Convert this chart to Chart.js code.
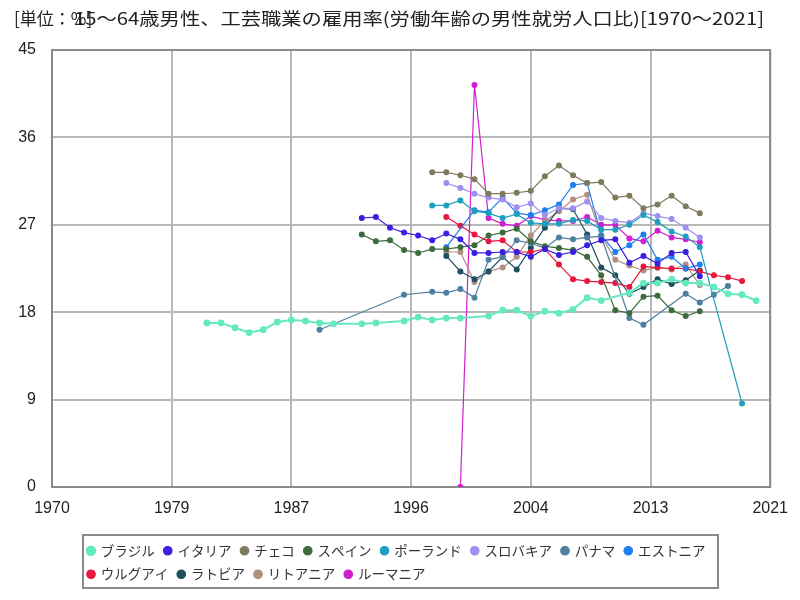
<!DOCTYPE html>
<html lang="ja">
<head>
<meta charset="utf-8">
<script src="https://cdn.jsdelivr.net/npm/chart.js@4.4.1/dist/chart.umd.min.js"></script>
<style>
  html, body { margin: 0; padding: 0; background: #fff; }
  #wrap { width: 800px; height: 600px; }
</style>
</head>
<body>
<div id="wrap"><canvas id="chart" width="800" height="600"></canvas></div>
<script>
// ----------------------------------------
// 15～64歳男性、工芸職業の雇用率 (1970～2021)
// ----------------------------------------

const unitText = '[単位：%]';
const titleText = '15～64歳男性、工芸職業の雇用率(労働年齢の男性就労人口比)[1970～2021]';

// 軸
const xMin = 1970;
const xMax = 2021;
const xStep = 8.5;
const yMin = 0;
const yMax = 45;
const yStep = 9;

// 系列データ（年と値）
const brazilYears = [1981, 1982, 1983, 1984, 1985, 1986, 1987, 1988, 1989, 1990, 1992, 1993, 1995, 1996, 1997, 1998, 1999, 2001, 2002, 2003, 2004, 2005, 2006, 2007, 2008, 2009, 2011, 2012, 2013, 2014, 2015, 2016, 2017, 2018, 2019, 2020];
const brazilValues = [16.9, 16.9, 16.4, 15.9, 16.2, 17.0, 17.2, 17.1, 16.9, 16.8, 16.8, 16.9, 17.1, 17.5, 17.2, 17.4, 17.4, 17.6, 18.2, 18.2, 17.6, 18.1, 17.9, 18.3, 19.5, 19.2, 20.0, 21.0, 21.0, 21.4, 21.0, 21.0, 20.6, 19.9, 19.8, 19.2];

const italyYears = [1992, 1993, 1994, 1995, 1996, 1997, 1998, 1999, 2000, 2001, 2002, 2003, 2004, 2005, 2006, 2007, 2008, 2009, 2010, 2011, 2012, 2013, 2014, 2015, 2016];
const italyValues = [27.7, 27.8, 26.7, 26.2, 25.9, 25.4, 26.1, 25.5, 24.1, 24.1, 24.2, 24.2, 23.7, 24.5, 23.9, 24.2, 24.9, 25.4, 25.5, 23.1, 23.8, 23.0, 24.1, 24.2, 21.7];

const czechYears = [1997, 1998, 1999, 2000, 2001, 2002, 2003, 2004, 2005, 2006, 2007, 2008, 2009, 2010, 2011, 2012, 2013, 2014, 2015, 2016];
const czechValues = [32.4, 32.4, 32.1, 31.7, 30.2, 30.2, 30.3, 30.5, 32.0, 33.1, 32.1, 31.3, 31.4, 29.8, 30.0, 28.7, 29.1, 30.0, 28.9, 28.2];

const spainYears = [1992, 1993, 1994, 1995, 1996, 1997, 1998, 1999, 2000, 2001, 2002, 2003, 2004, 2005, 2006, 2007, 2008, 2009, 2010, 2011, 2012, 2013, 2014, 2015, 2016];
const spainValues = [26.0, 25.3, 25.4, 24.4, 24.1, 24.5, 24.5, 24.7, 24.9, 25.9, 26.2, 26.6, 25.3, 24.8, 24.6, 24.4, 23.7, 21.8, 18.2, 17.9, 19.6, 19.7, 18.2, 17.6, 18.1];

const polandYears = [1997, 1998, 1999, 2000, 2001, 2002, 2003, 2004, 2005, 2006, 2007, 2008, 2009, 2010, 2011, 2012, 2013, 2014, 2015, 2016, 2019];
const polandValues = [29.0, 29.0, 29.5, 28.4, 28.2, 27.7, 28.1, 27.2, 27.1, 27.1, 27.5, 27.4, 26.5, 26.5, 27.0, 28.0, 27.3, 26.3, 25.8, 24.7, 8.6];

const slovakiaYears = [1998, 1999, 2000, 2001, 2002, 2003, 2004, 2005, 2006, 2007, 2008, 2009, 2010, 2011, 2012, 2013, 2014, 2015, 2016];
const slovakiaValues = [31.3, 30.8, 30.2, 29.8, 29.6, 28.8, 29.2, 28.0, 28.7, 28.7, 29.4, 27.7, 27.4, 27.2, 28.2, 27.9, 27.6, 26.7, 25.7];

const panamaYears = [1989, 1995, 1997, 1998, 1999, 2000, 2001, 2002, 2003, 2004, 2005, 2006, 2007, 2008, 2009, 2011, 2012, 2015, 2016, 2017, 2018];
const panamaValues = [16.2, 19.8, 20.1, 20.0, 20.4, 19.5, 23.4, 23.7, 25.4, 25.1, 24.6, 25.7, 25.5, 25.7, 25.8, 17.4, 16.7, 19.9, 19.0, 19.8, 20.7];

const estoniaYears = [1998, 2000, 2001, 2002, 2003, 2004, 2005, 2006, 2007, 2008, 2009, 2010, 2011, 2012, 2013, 2014, 2015, 2016];
const estoniaValues = [24.7, 28.5, 28.3, 29.8, 28.2, 28.0, 28.5, 29.1, 31.1, 31.3, 25.9, 24.2, 24.9, 26.0, 23.4, 23.7, 22.5, 22.9];

const uruguayYears = [1998, 1999, 2000, 2001, 2002, 2003, 2004, 2005, 2006, 2007, 2008, 2009, 2010, 2011, 2012, 2013, 2014, 2015, 2016, 2017, 2018, 2019];
const uruguayValues = [27.8, 26.9, 26.0, 25.3, 25.4, 24.2, 24.2, 24.5, 22.9, 21.4, 21.2, 21.1, 21.0, 20.6, 22.7, 22.6, 22.5, 22.5, 22.2, 21.8, 21.6, 21.2];

const latviaYears = [1998, 1999, 2000, 2001, 2002, 2003, 2004, 2005, 2006, 2007, 2008, 2009, 2010, 2011, 2012, 2013, 2014, 2015, 2016];
const latviaValues = [23.8, 22.2, 21.4, 22.2, 23.7, 22.4, 24.6, 26.7, 28.7, 28.6, 26.0, 22.6, 21.8, 19.9, 20.6, 21.4, 20.9, 21.3, 22.3];

const lithuaniaYears = [1998, 1999, 2000, 2001, 2002, 2003, 2004, 2005, 2006, 2007, 2008, 2009, 2010, 2011, 2012, 2013, 2014, 2015, 2016];
const lithuaniaValues = [24.2, 24.2, 21.1, 22.2, 22.6, 23.7, 25.9, 27.4, 28.4, 29.6, 30.1, 25.9, 23.4, 22.8, 22.3, 22.6, 22.4, 22.9, 20.8];

const romaniaYears = [1999, 2000, 2001, 2002, 2003, 2004, 2005, 2006, 2007, 2008, 2009, 2010, 2011, 2012, 2013, 2014, 2015, 2016];
const romaniaValues = [0, 41.4, 27.7, 27.1, 26.9, 27.9, 27.5, 27.4, 27.4, 27.8, 27.0, 27.0, 25.6, 25.3, 26.4, 25.7, 25.5, 25.2];

// 色
const colors = {
  brazil: '#66e8c0',
  italy: '#3a1fe0',
  czech: '#7f7a5c',
  spain: '#3d6b3d',
  poland: '#1f9fbf',
  slovakia: '#9f8fef',
  panama: '#4f7f9f',
  estonia: '#1f7fef',
  uruguay: '#e8173f',
  latvia: '#1f4f5f',
  lithuania: '#af8f7f',
  romania: '#cf1fcf',
  grid: '#b8b8b8',
  frame: '#8a8a8a',
  text: '#222222'
};

function makeSeries(label, years, values, color, width) {
  return {
    label: label,
    data: years.map((yr, i) => ({ x: yr, y: values[i] })),
    borderColor: color,
    backgroundColor: color,
    pointBackgroundColor: color,
    pointBorderColor: color,
    borderWidth: width || 1.2,
    pointRadius: 2.4,
    pointHoverRadius: 3,
    tension: 0
  };
}

const datasets = [
  makeSeries('ブラジル', brazilYears, brazilValues, colors.brazil, 2),
  makeSeries('イタリア', italyYears, italyValues, colors.italy),
  makeSeries('チェコ', czechYears, czechValues, colors.czech),
  makeSeries('スペイン', spainYears, spainValues, colors.spain),
  makeSeries('ポーランド', polandYears, polandValues, colors.poland),
  makeSeries('スロバキア', slovakiaYears, slovakiaValues, colors.slovakia),
  makeSeries('パナマ', panamaYears, panamaValues, colors.panama),
  makeSeries('エストニア', estoniaYears, estoniaValues, colors.estonia),
  makeSeries('ウルグアイ', uruguayYears, uruguayValues, colors.uruguay),
  makeSeries('ラトビア', latviaYears, latviaValues, colors.latvia),
  makeSeries('リトアニア', lithuaniaYears, lithuaniaValues, colors.lithuania),
  makeSeries('ルーマニア', romaniaYears, romaniaValues, colors.romania)
];

// タイトル（単位と本文が重なって描かれている）
const titlePlugin = {
  id: 'titleText',
  afterDraw(chart) {
    const ctx = chart.ctx;
    ctx.save();
    ctx.fillStyle = colors.text;
    ctx.textBaseline = 'middle';
    ctx.font = '17px "Noto Sans CJK JP"';
    ctx.fillText(unitText, 14, 19);
    const w = ctx.measureText(titleText).width;
    ctx.translate(74, 19);
    ctx.scale(690 / w, 1);
    ctx.fillText(titleText, 0, 0);
    ctx.restore();
  }
};

// プロット枠
const framePlugin = {
  id: 'frame',
  beforeDatasetsDraw(chart) {
    const a = chart.chartArea;
    const ctx = chart.ctx;
    ctx.save();
    ctx.strokeStyle = colors.frame;
    ctx.lineWidth = 2;
    ctx.strokeRect(a.left, a.top, a.right - a.left, a.bottom - a.top);
    ctx.restore();
  }
};

// 凡例を枠付きで左寄せ
const legendBoxPlugin = {
  id: 'legendBox',
  afterLayout(chart) {
    const lg = chart.legend;
    lg.left = 78;
    lg.right = 724;
    lg.top = 534;
    lg.bottom = 588;
  },
  afterDraw(chart) {
    const ctx = chart.ctx;
    ctx.save();
    ctx.strokeStyle = colors.frame;
    ctx.lineWidth = 2;
    ctx.strokeRect(83, 535, 635, 53);
    ctx.restore();
  }
};

const tickFont = { family: '"Liberation Sans Narrow", "Liberation Sans", sans-serif', size: 16 };

new Chart(document.getElementById('chart'), {
  type: 'line',
  data: { datasets: datasets },
  options: {
    responsive: false,
    animation: false,
    layout: { padding: { top: 50, right: 29, left: 0, bottom: 16 } },
    plugins: {
      legend: {
        display: true,
        position: 'bottom',
        align: 'start',
        labels: {
          usePointStyle: true,
          pointStyle: 'circle',
          boxWidth: 6,
          boxHeight: 6,
          padding: 10,
          color: '#333',
          font: { family: '"Noto Sans CJK JP"', size: 13.5, lineHeight: 1.0 }
        }
      },
      tooltip: { enabled: false }
    },
    scales: {
      x: {
        type: 'linear',
        min: xMin,
        max: xMax,
        afterFit: (s) => { s.height = 40; },
        grid: { color: colors.grid, lineWidth: 2, drawTicks: false },
        border: { color: colors.frame, width: 2 },
        ticks: {
          stepSize: xStep,
          maxRotation: 0,
          autoSkip: false,
          padding: 12,
          color: colors.text,
          font: tickFont,
          callback: (v) => Math.round(v)
        }
      },
      y: {
        min: yMin,
        max: yMax,
        afterFit: (s) => { s.width = 52; },
        grid: { color: colors.grid, lineWidth: 2, drawTicks: false },
        border: { color: colors.frame, width: 2 },
        ticks: {
          stepSize: yStep,
          padding: 16,
          color: colors.text,
          font: tickFont
        }
      }
    }
  },
  plugins: [framePlugin, legendBoxPlugin, titlePlugin]
});
</script>
</body>
</html>
